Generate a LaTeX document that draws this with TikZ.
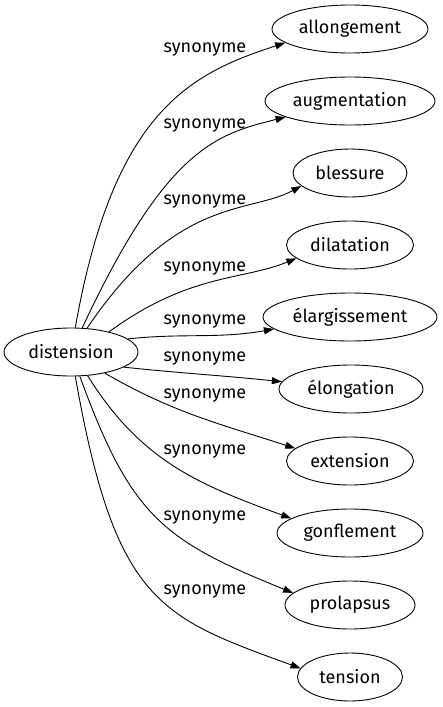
\documentclass[tikz,border=0pt]{standalone}
\usepackage{fontspec}
\setmainfont{Fira Sans}
\usepackage{tikz}
\usetikzlibrary{positioning}
\usetikzlibrary{shapes.geometric}
\usetikzlibrary{arrows.meta}
\usepackage{xcolor}

\tikzset{
  word/.style={draw, ellipse, inner sep=0pt, minimum height=48pt, line width=0.9pt},
  syn/.style={line width=0.9pt, -{Triangle[length=10pt,width=7pt]}},
  synlabel/.style={inner sep=0pt}
}

\begin{document}
\begin{tikzpicture}[x=1pt, y=1pt, font=\fontsize{18}{20}\selectfont]
    \useasboundingbox (0,0) rectangle (442,-707);
    % central word
    \node[word, minimum width=134pt] (dist) at (71,-352) {distension};

    % synonyms
    \node[word, minimum width=156pt] (allong) at (350,-29) {allongement};
    \node[word, minimum width=170pt] (augm) at (350,-101) {augmentation};
    \node[word, minimum width=114pt] (bless) at (350,-173) {blessure};
    \node[word, minimum width=127pt] (dilat) at (350,-245) {dilatation};
    \node[word, minimum width=174pt] (elarg) at (350,-317) {élargissement};
    \node[word, minimum width=144pt] (elong) at (351,-389) {élongation};
    \node[word, minimum width=127pt] (exten) at (350,-461) {extension};
    \node[word, minimum width=146pt] (gonfl) at (350,-533) {gonflement};
    \node[word, minimum width=130pt] (prolap) at (350,-605) {prolapsus};
    \node[word, minimum width=105pt] (tens) at (350,-677) {tension};

    % edge labels
    \node[synlabel] (s1) at (205,-50) {synonyme};
    \node[synlabel] (s2) at (205,-126) {synonyme};
    \node[synlabel] (s3) at (205,-202) {synonyme};
    \node[synlabel] (s4) at (205,-269) {synonyme};
    \node[synlabel] (s5) at (205,-322) {synonyme};
    \node[synlabel] (s6) at (205,-359) {synonyme};
    \node[synlabel] (s7) at (205,-396) {synonyme};
    \node[synlabel] (s8) at (205,-452) {synonyme};
    \node[synlabel] (s9) at (205,-518) {synonyme};
    \node[synlabel] (s10) at (205,-592) {synonyme};

    % edges
    \draw[syn] (dist.80) to[out=80, in=198, out distance=220pt, in distance=100pt] (allong.192);
    \draw[syn] (dist.65) to[out=65, in=194, out distance=200pt, in distance=70pt] (augm.194);
    \draw[syn] (dist.56) to[out=56, in=208, out distance=160pt, in distance=60pt] (bless.195);
    \draw[syn] (dist.28) to[out=36, in=202, out distance=100pt, in distance=60pt] (dilat.194);
    \draw[syn] (dist.13) to[out=6, in=190] (elarg.189);
    \draw[syn] (dist.-16) to[out=-6, in=174] (elong.174);
    \draw[syn] (dist.-32) to[out=-30, in=162] (exten.167);
    \draw[syn] (dist.-55) to[out=-58, in=160, out distance=100pt, in distance=100pt] (gonfl.166);
    \draw[syn] (dist.-70) to[out=-70, in=158, out distance=150pt, in distance=140pt] (prolap.168);
    \draw[syn] (dist.-80) to[out=-80, in=160, out distance=230pt, in distance=150pt] (tens.170);
\end{tikzpicture}
\end{document}
